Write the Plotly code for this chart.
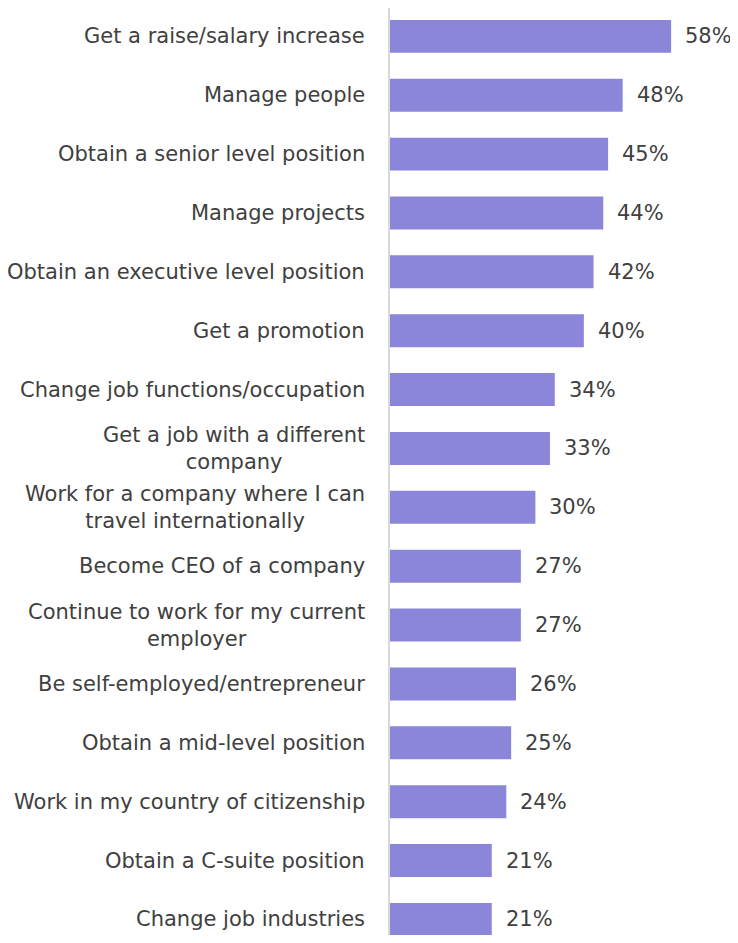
import plotly.graph_objects as go

goals = [
    "Get a raise/salary increase",
    "Manage people",
    "Obtain a senior level position",
    "Manage projects",
    "Obtain an executive level position",
    "Get a promotion",
    "Change job functions/occupation",
    "Get a job with a different<br>company",
    "Work for a company where I can<br>travel internationally",
    "Become CEO of a company",
    "Continue to work for my current<br>employer",
    "Be self-employed/entrepreneur",
    "Obtain a mid-level position",
    "Work in my country of citizenship",
    "Obtain a C-suite position",
    "Change job industries",
]
shares = [58, 48, 45, 44, 42, 40, 34, 33, 30, 27, 27, 26, 25, 24, 21, 21]

bar_color = "#8B86DA"
text_color = "#404040"
font_family = "DejaVu Sans"

fig = go.Figure()
fig.add_trace(
    go.Bar(
        x=shares,
        y=goals,
        orientation="h",
        marker=dict(color=bar_color, line=dict(width=0)),
        cliponaxis=False,
        width=0.56,
        hoverinfo="x+y",
    )
)

# category labels (centred lines, right edge near the axis)
for g in goals:
    fig.add_annotation(
        x=0,
        xref="paper",
        y=g,
        yref="y",
        text=g,
        showarrow=False,
        xanchor="right",
        align="center",
        xshift=-23,
        font=dict(family=font_family, size=21, color=text_color),
    )

# value labels past the bar ends
for g, v in zip(goals, shares):
    fig.add_annotation(
        x=v,
        y=g,
        text=f"{v}%",
        showarrow=False,
        xanchor="left",
        xshift=12,
        font=dict(family=font_family, size=21, color=text_color),
    )

fig.update_layout(
    width=738,
    height=927,
    margin=dict(l=382, r=8, t=0, b=0),
    plot_bgcolor="white",
    paper_bgcolor="white",
    showlegend=False,
)
fig.update_xaxes(range=[0, 71.8], visible=False)
fig.update_yaxes(
    categoryorder="array",
    categoryarray=goals,
    range=[15.265, -0.482],
    showticklabels=False,
    showgrid=False,
    showline=True,
    linecolor="#D9D9D9",
    linewidth=2,
    ticks="",
    zeroline=False,
)

fig.write_html("out.html")
